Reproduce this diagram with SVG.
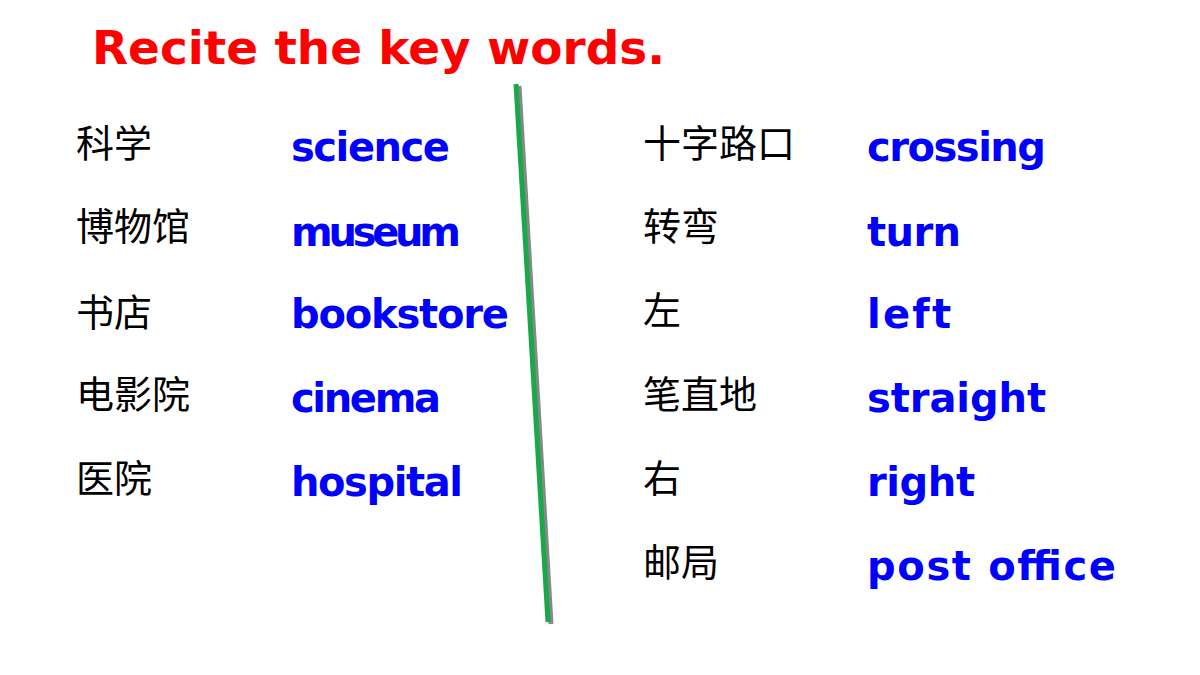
<svg xmlns="http://www.w3.org/2000/svg" width="1200" height="675" viewBox="0 0 1200 675">
<style>
.t{font-family:"Comic Sans MS","DejaVu Sans",sans-serif;font-weight:bold;font-size:46px;fill:#ff0000}
.zh{font-family:"Noto Sans CJK SC",sans-serif;font-size:38px;fill:#000}
.en{font-family:"DejaVu Sans",sans-serif;font-weight:bold;font-size:40px;fill:#0000ff}
</style>
<rect width="1200" height="675" fill="#fff"/>
<text class="t" x="92" y="64" textLength="573" lengthAdjust="spacingAndGlyphs">Recite the key words.</text>
<g id="divider">
<line x1="519" y1="86" x2="551" y2="624" stroke="#888" stroke-width="5"/>
<line x1="516" y1="84" x2="548" y2="622" stroke="#1aa84a" stroke-width="5"/>
</g>
<g id="left">
<text class="zh" x="76" y="157">科学</text><text class="en" x="291" y="161" textLength="159">science</text>
<text class="zh" x="76" y="240">博物馆</text><text class="en" x="291" y="246" textLength="170">museum</text>
<text class="zh" x="76" y="326">书店</text><text class="en" x="291" y="328" textLength="218">bookstore</text>
<text class="zh" x="76" y="408">电影院</text><text class="en" x="291" y="412" textLength="150">cinema</text>
<text class="zh" x="76" y="492">医院</text><text class="en" x="291" y="496" textLength="172">hospital</text>
</g>
<g id="right">
<text class="zh" x="643" y="157">十字路口</text><text class="en" x="867" y="161" textLength="179">crossing</text>
<text class="zh" x="643" y="240">转弯</text><text class="en" x="867" y="246" textLength="94">turn</text>
<text class="zh" x="643" y="324">左</text><text class="en" x="867" y="328" textLength="84">left</text>
<text class="zh" x="643" y="408">笔直地</text><text class="en" x="867" y="412" textLength="179">straight</text>
<text class="zh" x="643" y="492">右</text><text class="en" x="867" y="496" textLength="108">right</text>
<text class="zh" x="643" y="576">邮局</text><text class="en" x="867" y="580" textLength="249">post office</text>
</g>
</svg>
